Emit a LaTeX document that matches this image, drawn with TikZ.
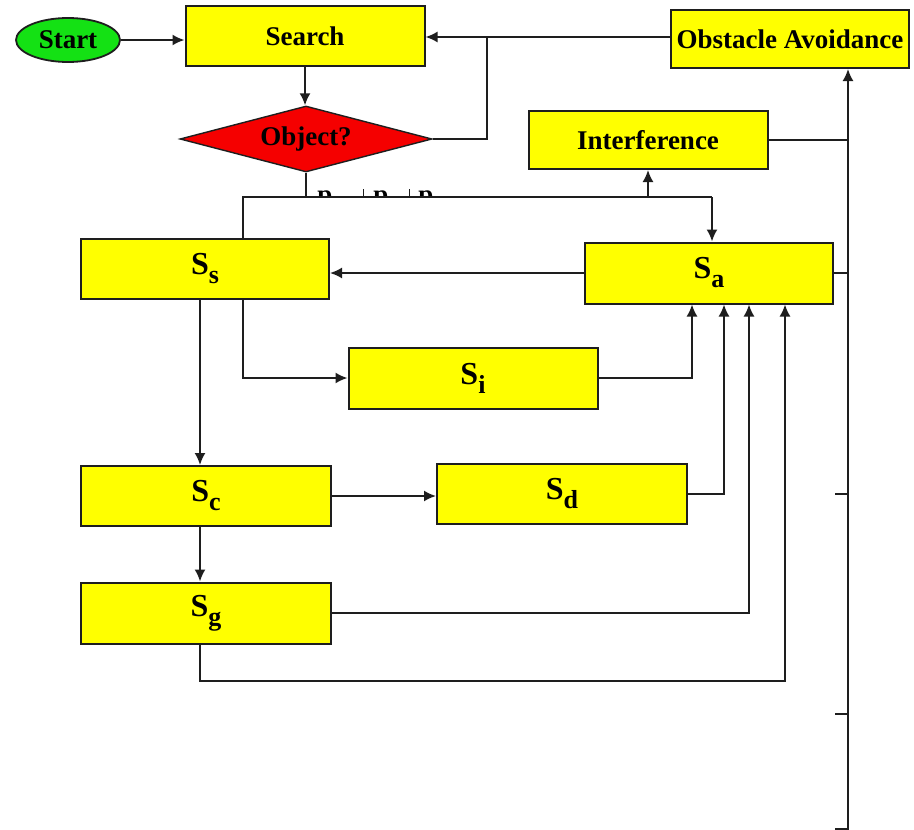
\documentclass[tikz,border=0pt]{standalone}
\usepackage{fontspec}
\setmainfont{Liberation Serif}
\usetikzlibrary{shapes.geometric,arrows.meta}

\definecolor{boxyellow}{RGB}{255,255,0}
\definecolor{startgreen}{RGB}{20,225,20}
\definecolor{decisionred}{RGB}{245,0,0}
\definecolor{edgegray}{RGB}{30,30,30}

% state label: large S with a lowered bold subscript
\newcommand{\stlabel}[1]{{\fontsize{32}{34}\selectfont S}\raisebox{-9pt}{\fontsize{26}{28}\selectfont #1}}

\tikzset{
  txt/.style={font=\fontsize{27}{30}\selectfont\bfseries},
  block/.style={draw=edgegray, line width=2pt, fill=boxyellow, rectangle,
    inner sep=0pt, txt},
  wire/.style={draw=edgegray, line width=1.8pt},
  arr/.style={wire, -{Latex[length=12pt,width=11pt]}},
}

\begin{document}
\begin{tikzpicture}[x=1pt, y=-1pt]
\useasboundingbox (0,0) rectangle (914,830);

% top row
\node[ellipse, draw=edgegray, line width=1.8pt, fill=startgreen,
      minimum width=104pt, minimum height=44pt, inner sep=0pt, txt] (start) at (68,40) {Start};
\node[block, minimum width=239pt, minimum height=60pt] (search) at (305,36) {Search};
\node[block, minimum width=238pt, minimum height=58pt] (oa) at (790,39) {Obstacle Avoidance};

% decision
\node[diamond, aspect=4, draw=edgegray, line width=1.4pt, fill=decisionred,
      minimum width=252pt, minimum height=66pt, inner sep=0pt, txt] (obj) at (306,139) {Object?};

\node[block, minimum width=239pt, minimum height=58pt] (int) at (648,140) {Interference};

% states
\node[block, minimum width=248pt, minimum height=60pt] (ss) at (205,269) {\stlabel{s}};
\node[block, minimum width=248pt, minimum height=61pt] (sa) at (709,273) {\stlabel{a}};
\node[block, minimum width=249pt, minimum height=61pt] (si) at (473,378) {\stlabel{i}};
\node[block, minimum width=250pt, minimum height=60pt] (sc) at (206,496) {\stlabel{c}};
\node[block, minimum width=250pt, minimum height=60pt] (sd) at (562,494) {\stlabel{d}};
\node[block, minimum width=250pt, minimum height=61pt] (sg) at (206,613) {\stlabel{g}};

% routing points
\coordinate (j1) at (487,37);
\coordinate (bl) at (243,197);
\coordinate (br) at (712,197);
\coordinate (c0) at (200,0);
\coordinate (a1) at (692,0);
\coordinate (a2) at (724,0);
\coordinate (a3) at (749,0);
\coordinate (a4) at (785,0);
\coordinate (lp) at (0,681);
\coordinate (rb) at (848,830);
\coordinate (t1) at (835,494);
\coordinate (t2) at (835,714);
\coordinate (t3) at (835,829);

% labels under the decision, cut off by the bus line
\begin{scope}
  \clip (300,180) rectangle (450,196);
  \node[txt, anchor=base, inner sep=0pt] (p1) at (325,203) {p};
  \node[txt, anchor=base, inner sep=0pt] (p2) at (381,203) {p};
  \node[txt, anchor=base, inner sep=0pt] (p3) at (426,203) {p};
\end{scope}
\draw[edgegray, line width=0.8pt] (363,189) -- (363,197);
\draw[edgegray, line width=0.8pt] (409,189) -- (409,197);

% top connectors
\draw[arr] (start.east) -- (start.east -| search.west);
\draw[arr] (oa.west |- j1) -- (j1 -| search.east);
\draw[arr] (search.south) -- (search.south |- obj.north);
\draw[wire] (obj.east) -| (j1);

% bus under the decision
\draw[wire] (obj.south) -- (obj.south |- bl);
\draw[wire] (ss.north -| bl) -- (bl) -- (br);
\draw[arr] (br) -- (br |- sa.north);
\draw[arr] (int.south |- bl) -- (int.south);

% right-hand return line to obstacle avoidance
\draw[arr] (rb) -- (rb |- oa.south);
\draw[wire] (int.east) -- (int.east -| rb);
\draw[wire] (sa.east) -- (sa.east -| rb);
\draw[wire] (t1) -- (t1 -| rb);
\draw[wire] (t2) -- (t2 -| rb);
\draw[wire] (t3) -- (t3 -| rb);

% state transitions
\draw[arr] (sa.west) -- (sa.west -| ss.east);
\draw[arr] (ss.south -| bl) |- (si.west);
\draw[arr] (si.east) -| (a1 |- sa.south);
\draw[arr] (ss.south -| c0) -- (sc.north -| c0);
\draw[arr] (sc.east) -- (sc.east -| sd.west);
\draw[arr] (sd.east) -| (a2 |- sa.south);
\draw[arr] (sc.south -| c0) -- (sg.north -| c0);
\draw[arr] (sg.east) -| (a3 |- sa.south);
\draw[arr] (sg.south -| c0) -- (c0 |- lp) -| (a4 |- sa.south);
\end{tikzpicture}
\end{document}
